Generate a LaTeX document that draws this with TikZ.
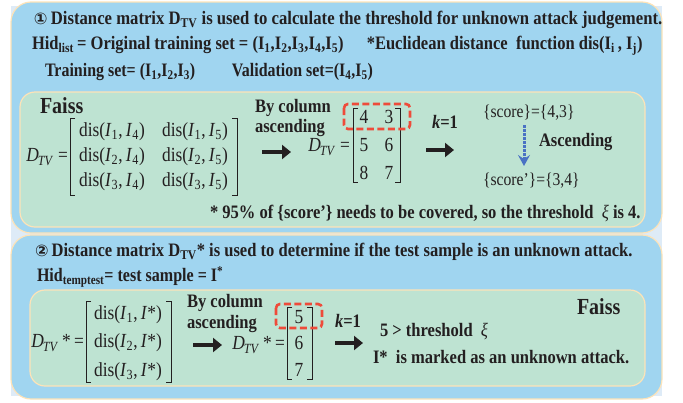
\documentclass[tikz,border=0pt]{standalone}
\usepackage{fontspec}
\setmainfont{Liberation Serif}[FakeStretch=0.87]
\newfontfamily\symfont{DejaVu Sans}
\usetikzlibrary{arrows.meta}
\definecolor{outerblue}{HTML}{A0D5F0}
\definecolor{innergreen}{HTML}{BEE3D2}
\definecolor{rimcream}{HTML}{FDE3B8}
\definecolor{bgblue}{HTML}{DEEBF7}
\definecolor{ink}{HTML}{231F20}
\definecolor{redbox}{HTML}{EE4B3A}
\definecolor{dotblue}{HTML}{4A72C4}
\newcommand{\Dtv}{\textit{D}\textsubscript{\kern-1pt\textit{TV}}}
\newcommand{\hsc}[2]{\scalebox{#1}[1]{#2}}
\begin{document}
\begin{tikzpicture}[x=1pt,y=-1pt,
  every node/.style={text=ink, inner sep=0pt, outer sep=0pt},
  outerbox/.style={fill=outerblue, draw=rimcream, line width=1.2pt, rounded corners=20pt},
  innerbox/.style={fill=innergreen, draw=rimcream, line width=1.2pt, rounded corners=15pt},
  head/.style={anchor=west, font=\bfseries\fontsize{19}{22}\selectfont},
  mid/.style={anchor=west, font=\bfseries\fontsize{19}{22}\selectfont},
  plain/.style={font=\fontsize{20}{24}\selectfont},
  score/.style={font=\fontsize{18}{21}\selectfont},
  faissfont/.style={anchor=west, font=\bfseries\fontsize{23}{26}\selectfont},
  bigarrow/.style={-{Triangle[length=9pt,width=14pt]}, line width=4pt, draw=ink},
  bracket/.style={draw=ink, line width=0.9pt},
  redframe/.style={draw=redbox, line width=2.6pt, dash pattern=on 7pt off 3.5pt, rounded corners=4pt},
  dotarrow/.style={draw=dotblue, line width=3pt, dash pattern=on 2.5pt off 1.5pt, -{Stealth[length=11pt,width=12pt,inset=4pt]}}
]
\useasboundingbox (0,0) rectangle (683,402);
\fill[bgblue] (11,6) rectangle (662,396);
% boxes
\draw[outerbox] (11,2) rectangle (662,233);
\draw[outerbox] (11,235) rectangle (662,399);
\draw[innerbox] (20,92) rectangle (645,227);
\draw[innerbox] (30,290) rectangle (645,386);

% ---- panel 1 header
\node[head] (t1) at (34,20) {\hsc{1.01}{{\symfont\fontsize{16}{18}\selectfont ①}\,Distance matrix D\textsubscript{TV} is used to calculate the threshold for unknown attack judgement.}};
\node[head] (t2) at (32,46) {Hid\textsubscript{list}\,= Original training set = (I\textsubscript{1},I\textsubscript{2},I\textsubscript{3},I\textsubscript{4},I\textsubscript{5})\quad\ *Euclidean distance\ \ function dis(I\textsubscript{i}\,, I\textsubscript{j})};
\node[head] (t3) at (45,72) {\hsc{0.965}{Training set= (I\textsubscript{1},I\textsubscript{2},I\textsubscript{3})\qquad Validation set=(I\textsubscript{4},I\textsubscript{5})}};

% ---- panel 1 body
\node[faissfont] (faiss1) at (40,106) {Faiss};
\node[plain, anchor=east] (dlab1) at (68,157) {\Dtv\ =};
\draw[bracket] (75,118) -- (70,118) -- (70,195) -- (75,195);
\draw[bracket] (232,118) -- (237,118) -- (237,195) -- (232,195);
\node[plain] (a11) at (112,132) {dis(\textit{I}\textsubscript{1},\,\textit{I}\textsubscript{4})};
\node[plain] (a12) at (195,132) {dis(\textit{I}\textsubscript{1},\,\textit{I}\textsubscript{5})};
\node[plain] (a21) at (112,157) {dis(\textit{I}\textsubscript{2},\,\textit{I}\textsubscript{4})};
\node[plain] (a22) at (195,157) {dis(\textit{I}\textsubscript{2},\,\textit{I}\textsubscript{5})};
\node[plain] (a31) at (112,182) {dis(\textit{I}\textsubscript{3},\,\textit{I}\textsubscript{4})};
\node[plain] (a32) at (195,182) {dis(\textit{I}\textsubscript{3},\,\textit{I}\textsubscript{5})};

\node[mid] (bc1) at (255,108) {By column};
\node[mid] (as1) at (255,128) {ascending};
\coordinate (ar1s) at (262,152); \coordinate (ar1e) at (291,152);
\draw[bigarrow] (ar1s) -- (ar1e);

\node[plain, anchor=east] (dlab2) at (350,147) {\Dtv\ =};
\draw[bracket] (358,108) -- (353,108) -- (353,182) -- (358,182);
\draw[bracket] (395,108) -- (400,108) -- (400,182) -- (395,182);
\node[plain] (b11) at (364,117) {4};
\node[plain] (b12) at (389,117) {3};
\node[plain] (b21) at (364,145) {5};
\node[plain] (b22) at (389,145) {6};
\node[plain] (b31) at (364,173) {8};
\node[plain] (b32) at (389,173) {7};
\draw[redframe] (344,104) rectangle (410,129);

\node[mid, anchor=center] (k1) at (445,122) {\textit{k}=1};
\coordinate (ar2s) at (426,150); \coordinate (ar2e) at (454,150);
\draw[bigarrow] (ar2s) -- (ar2e);

\node[score, anchor=west] (sc1) at (483,113) {\{score\}=\{4,3\}};
\node[score, anchor=west] (sc2) at (483,181) {\{score’\}=\{3,4\}};
\coordinate (da1) at (524,125); \coordinate (da2) at (524,166);
\draw[dotarrow] (da1) -- (da2);
\node[mid] (asc) at (539,142) {Ascending};
\node[mid] (note1) at (210,213) {* 95\% of \{score’\} needs to be covered, so the threshold \ {\mdseries\textit{ξ}} is 4.};

% ---- panel 2 header
\node[head] (u1) at (35,252) {{\symfont\fontsize{16}{18}\selectfont ②}\,Distance matrix D\textsubscript{TV}* is used to determine if the test sample is an unknown attack.};
\node[head] (u2) at (37,277) {\hsc{0.97}{Hid\textsubscript{temptest}= test sample = I\textsuperscript{*}}};

% ---- panel 2 body
\node[plain, anchor=east] (elab1) at (84,343) {\Dtv\,*\,=};
\draw[bracket] (91,301) -- (86,301) -- (86,382) -- (91,382);
\draw[bracket] (166,301) -- (171,301) -- (171,382) -- (166,382);
\node[plain] (c1) at (128,315) {dis(\textit{I}\textsubscript{1},\,\textit{I}*)};
\node[plain] (c2) at (128,343) {dis(\textit{I}\textsubscript{2},\,\textit{I}*)};
\node[plain] (c3) at (128,372) {dis(\textit{I}\textsubscript{3},\,\textit{I}*)};

\node[mid] (bc2) at (187,303) {By column};
\node[mid] (as2) at (187,324) {ascending};
\coordinate (ar3s) at (193,345); \coordinate (ar3e) at (222,345);
\draw[bigarrow] (ar3s) -- (ar3e);

\node[plain, anchor=east] (elab2) at (285,345) {\Dtv\,*\,=};
\draw[bracket] (292,307) -- (287,307) -- (287,379) -- (292,379);
\draw[bracket] (307,307) -- (312,307) -- (312,379) -- (307,379);
\node[plain] (d1) at (299,317) {5};
\node[plain] (d2) at (299,343) {6};
\node[plain] (d3) at (299,370) {7};
\draw[redframe] (276,304) rectangle (322,328);

\node[mid, anchor=center] (k2) at (348,321) {\textit{k}=1};
\coordinate (ar4s) at (335,343); \coordinate (ar4e) at (363,343);
\draw[bigarrow] (ar4s) -- (ar4e);

\node[mid] (r1) at (380,332) {5 > threshold \ {\mdseries\textit{ξ}}};
\node[mid] (r2) at (373,357) {I*\ \ is marked as an unknown attack.};
\node[faissfont] (faiss2) at (577,307) {Faiss};
\end{tikzpicture}
\end{document}
